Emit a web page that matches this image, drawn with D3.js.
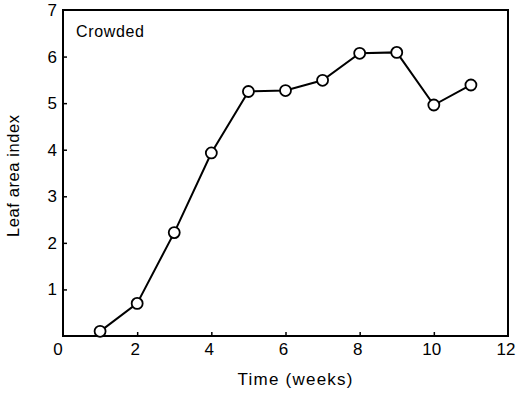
<!DOCTYPE html>
<html>
<head>
<meta charset="utf-8">
<script src="https://cdn.jsdelivr.net/npm/d3@7"></script>
<style>
  html, body { margin: 0; padding: 0; background: #fff; }
  svg { display: block; }
  text { font-family: "Liberation Sans", Arial, sans-serif; fill: #000; }
</style>
</head>
<body>
<div id="chart"></div>
<script>
const weeks = [1, 2, 3, 4, 5, 6, 7, 8, 9, 10, 11];
const lai = [0.1, 0.7, 2.22, 3.93, 5.25, 5.27, 5.49, 6.07, 6.09, 4.96, 5.39];
const xTicks = [0, 2, 4, 6, 8, 10, 12];
const yTicks = [1, 2, 3, 4, 5, 6, 7];
const xTitle = "Time (weeks)";
const yTitle = "Leaf area index";
const panelLabel = "Crowded";

const W = 519, H = 393;
const svg = d3.select("#chart").append("svg").attr("width", W).attr("height", H);

const x = d3.scaleLinear().domain([0, 12]).range([63, 508]);
const y = d3.scaleLinear().domain([0, 7]).range([336, 10]);

// frame
svg.append("rect")
  .attr("x", x(0)).attr("y", y(7))
  .attr("width", x(12) - x(0)).attr("height", y(0) - y(7))
  .attr("fill", "none").attr("stroke", "#000").attr("stroke-width", 2);

// x axis ticks (inward)
const xAxis = d3.axisBottom(x).tickValues(xTicks.filter(d => d > 0 && d < 12)).tickSize(-4).tickFormat("");
svg.append("g").attr("transform", `translate(0,${y(0)})`).call(xAxis)
  .call(g => g.select(".domain").remove())
  .call(g => g.selectAll("line").attr("stroke-width", 1.5));

// x tick labels
svg.append("g").selectAll("text").data(xTicks).join("text")
  .attr("x", d => x(d) - (d === 0 ? 5 : 2))
  .attr("y", 355)
  .attr("text-anchor", "middle")
  .attr("font-size", 17)
  .text(d => d);

// y axis ticks (inward)
const yAxis = d3.axisLeft(y).tickValues(yTicks.filter(d => d < 7)).tickSize(-4).tickFormat("");
svg.append("g").attr("transform", `translate(${x(0)},0)`).call(yAxis)
  .call(g => g.select(".domain").remove())
  .call(g => g.selectAll("line").attr("stroke-width", 1.5));

// y tick labels
svg.append("g").selectAll("text").data(yTicks).join("text")
  .attr("x", 57)
  .attr("y", d => y(d) + 6)
  .attr("text-anchor", "end")
  .attr("font-size", 17)
  .text(d => d);

// titles
svg.append("text")
  .attr("x", 295).attr("y", 385)
  .attr("text-anchor", "middle")
  .attr("font-size", 17)
  .attr("textLength", 115).attr("lengthAdjust", "spacing")
  .text(xTitle);

svg.append("text")
  .attr("transform", `translate(19,176) rotate(-90)`)
  .attr("text-anchor", "middle")
  .attr("font-size", 16.5)
  .attr("textLength", 122).attr("lengthAdjust", "spacing")
  .text(yTitle);

svg.append("text")
  .attr("x", 76).attr("y", 37)
  .attr("font-size", 16)
  .attr("textLength", 68).attr("lengthAdjust", "spacing")
  .text(panelLabel);

// line
const line = d3.line().x((d, i) => x(weeks[i])).y(d => y(d));
svg.append("path").datum(lai)
  .attr("d", line)
  .attr("fill", "none").attr("stroke", "#000").attr("stroke-width", 2);

// markers
svg.append("g").selectAll("circle").data(lai).join("circle")
  .attr("cx", (d, i) => x(weeks[i]))
  .attr("cy", d => y(d))
  .attr("r", 5.5)
  .attr("fill", "#fff").attr("stroke", "#000").attr("stroke-width", 1.8);
</script>
</body>
</html>
